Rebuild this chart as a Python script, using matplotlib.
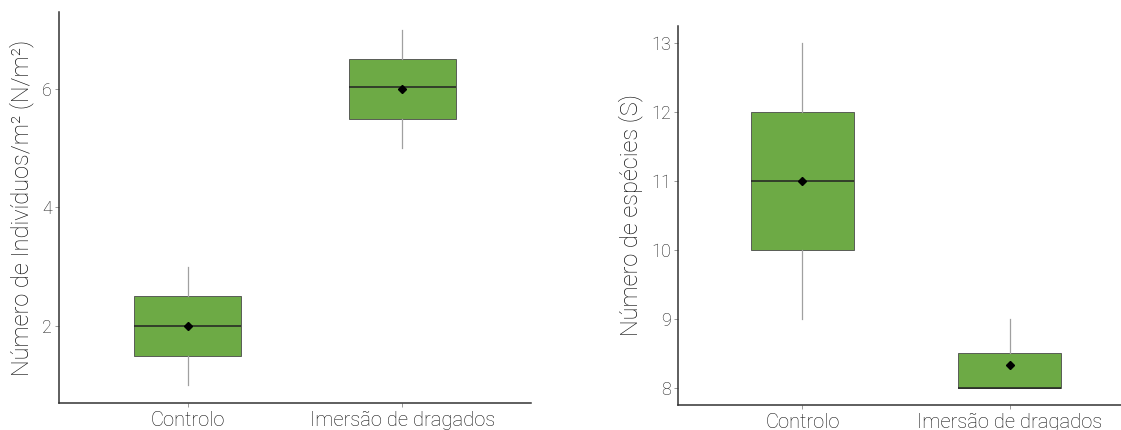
import matplotlib
matplotlib.use("Agg")
import matplotlib.pyplot as plt

plt.rcParams['font.family'] = ['Roboto', 'DejaVu Sans']

categories = ["Controlo", "Imersão de dragados"]

# Left panel: Número de Indivíduos/m²
ind_whislo = [1.0, 5.0]
ind_q1 = [1.5, 5.5]
ind_med = [2.0, 6.03]
ind_q3 = [2.5, 6.5]
ind_whishi = [3.0, 7.0]
ind_mean = [2.0, 6.0]

# Right panel: Número de espécies
sp_whislo = [9.0, 8.0]
sp_q1 = [10.0, 8.0]
sp_med = [11.0, 8.0]
sp_q3 = [12.0, 8.5]
sp_whishi = [13.0, 9.0]
sp_mean = [11.0, 8.33]

GREEN = "#6daa45"
W = 1121
H = 430

fig = plt.figure(figsize=(W / 100, H / 100), dpi=100)


def add_axes(x0, y_top, x1, y_bot):
    return fig.add_axes([x0 / W, (H - y_bot) / H, (x1 - x0) / W, (y_bot - y_top) / H])


def draw(ax, whislo, q1, med, q3, whishi, mean, ylabel, yticks, ylim):
    stats = []
    for i in range(len(categories)):
        stats.append(dict(whislo=whislo[i], q1=q1[i], med=med[i], q3=q3[i],
                          whishi=whishi[i], fliers=[], label=categories[i]))
    pos = list(range(1, len(categories) + 1))
    ax.bxp(stats, positions=pos, widths=0.5, patch_artist=True, showcaps=False,
           boxprops=dict(facecolor=GREEN, edgecolor="#4a4a4a", linewidth=0.6),
           whiskerprops=dict(color="#a0a0a0", linewidth=0.9),
           medianprops=dict(color="#222222", linewidth=1.1))
    ax.plot(pos, mean, linestyle="none", marker="D", markersize=4.2, color="black", zorder=5)
    ax.set_xlim(0.4, 2.6)
    ax.set_ylim(*ylim)
    ax.set_yticks(yticks)
    ax.set_xticks(pos)
    ax.set_xticklabels(categories, fontsize=14.5, fontweight="light", color="#111111")
    for lab in ax.get_yticklabels():
        lab.set_fontsize(13)
        lab.set_fontweight("light")
        lab.set_color("#1a1a1a")
    ax.set_ylabel(ylabel, fontsize=17, fontweight="light", color="#111111", labelpad=6)
    for s in ["top", "right"]:
        ax.spines[s].set_visible(False)
    for s in ["left", "bottom"]:
        ax.spines[s].set_color("#333333")
        ax.spines[s].set_linewidth(1.1)
    ax.tick_params(axis="both", length=3, width=0.6, color="#888888", pad=2)
    ax.tick_params(axis="x", pad=3)


ax1 = add_axes(59, 12, 531, 403)
draw(ax1, ind_whislo, ind_q1, ind_med, ind_q3, ind_whishi, ind_mean,
     "Número de Indivíduos/m² (N/m²)", [2, 4, 6], (0.7, 7.3))

ax2 = add_axes(678, 26, 1134, 405)
draw(ax2, sp_whislo, sp_q1, sp_med, sp_q3, sp_whishi, sp_mean,
     "Número de espécies (S)", [8, 9, 10, 11, 12, 13], (7.75, 13.25))

fig.savefig("out.png", dpi=100)
